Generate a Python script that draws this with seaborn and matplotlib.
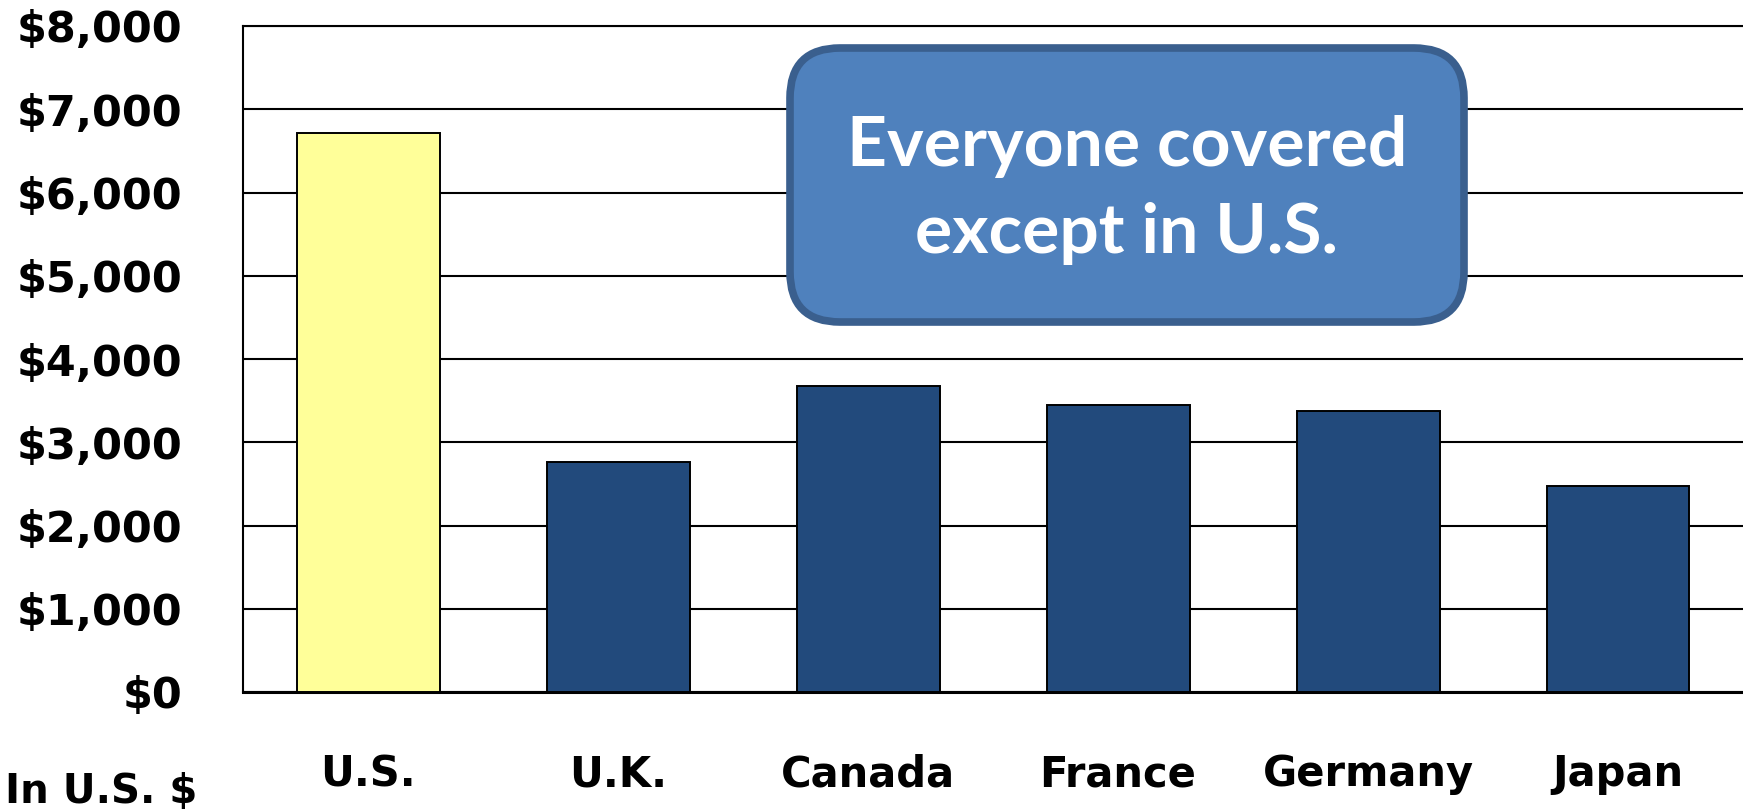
import matplotlib
matplotlib.use("Agg")
import matplotlib.pyplot as plt
import seaborn as sns
import pandas as pd
from matplotlib.patches import FancyBboxPatch
from matplotlib.ticker import FuncFormatter

countries = ["U.S.", "U.K.", "Canada", "France", "Germany", "Japan"]
spending = [6714, 2760, 3678, 3449, 3371, 2474]
bar_colors = ["#FFFF99", "#224A7C", "#224A7C", "#224A7C", "#224A7C", "#224A7C"]
y_ticks = [0, 1000, 2000, 3000, 4000, 5000, 6000, 7000, 8000]
callout_lines = ["Everyone covered", "except in U.S."]
unit_label = "In U.S. $"

df = pd.DataFrame({"country": countries, "spending": spending})

sns.set_style("white")
plt.rcParams["font.family"] = ["DejaVu Sans"]
plt.rcParams["text.color"] = "black"
plt.rcParams["xtick.color"] = "black"
plt.rcParams["ytick.color"] = "black"

W, H = 1743, 809
fig = plt.figure(figsize=(W / 100, H / 100), dpi=100)
ax = fig.add_axes([243 / W, 1 - 692 / H, (W - 243) / W, (692 - 26) / H])

sns.barplot(data=df, x="country", y="spending", hue="country", palette=bar_colors,
            legend=False, width=0.572, edgecolor="black", linewidth=1.4,
            saturation=1, ax=ax, zorder=3)

ax.set_xlim(-0.5, 5.5)
ax.set_ylim(0, 8000)
ax.set_yticks(y_ticks)
ax.yaxis.set_major_formatter(FuncFormatter(lambda v, p: f"${int(v):,}"))
for y in y_ticks:
    ax.axhline(y, color="black", lw=1.5, zorder=1)

ax.spines["right"].set_visible(False)
for s in ["left", "bottom", "top"]:
    ax.spines[s].set_color("black")
    ax.spines[s].set_linewidth(1.5)
ax.spines["bottom"].set_linewidth(2.2)

ax.tick_params(axis="y", length=0, pad=44, labelsize=31, labelcolor="black")
ax.tick_params(axis="x", length=0, pad=44, labelsize=30, labelcolor="black")
for lab in ax.get_yticklabels() + ax.get_xticklabels():
    lab.set_fontweight("bold")
ax.set_xlabel("")
ax.set_ylabel("")

# overlay in figure pixel coordinates for the callout
ov = fig.add_axes([0, 0, 1, 1], zorder=10)
ov.set_xlim(0, W)
ov.set_ylim(H, 0)
ov.axis("off")
ov.patch.set_alpha(0)

x0, x1, y0, y1 = 790, 1464, 48, 322
box = FancyBboxPatch((x0, y0), x1 - x0, y1 - y0,
                     boxstyle="round,pad=0,rounding_size=50",
                     facecolor="#4F81BD", edgecolor="#3A5F8E", linewidth=5.5)
ov.add_patch(box)
cx = (x0 + x1) / 2
for line, base in zip(callout_lines, [166, 253]):
    ov.text(cx, base, line, ha="center", va="baseline", color="white",
            fontsize=50, fontweight="bold", family=["Lato", "DejaVu Sans"])

fig.text(5 / W, 6 / H, unit_label, ha="left", va="baseline", fontsize=29,
         fontweight="bold", color="black")

fig.savefig("out.png", dpi=100)
